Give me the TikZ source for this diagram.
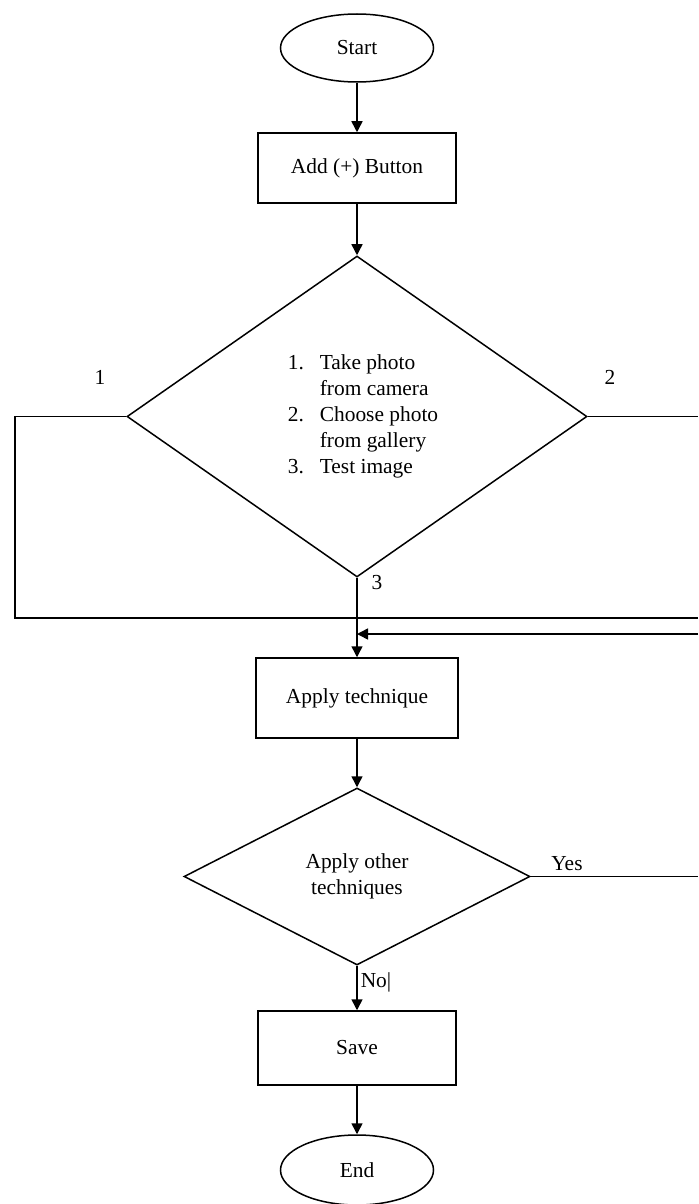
\documentclass[tikz,border=0pt]{standalone}
\usepackage{fontspec}
\setmainfont{Liberation Serif}
\usetikzlibrary{shapes.geometric,arrows.meta}
\tikzset{
	box/.style={draw, rectangle, minimum width=99pt, minimum height=36pt},
	oval/.style={draw, ellipse, minimum width=76.5pt, minimum height=34pt},
	choice/.style={draw, diamond, inner sep=0pt},
	flow/.style={-{Triangle[length=5.5pt,width=5.5pt]}},
}
\begin{document}
\begin{tikzpicture}[x=0.5pt,y=-0.5pt,line width=0.75pt,font=\fontsize{10.7}{13}\selectfont]
	\useasboundingbox (0,0) rectangle (698,1204);
	\node[oval] (start) at (357,48) {Start};
	\node[box, minimum height=35pt] (addbtn) at (357,168) {Add (+) Button};
	\node[choice, minimum width=230pt, minimum height=160.5pt] (pick) at (357,416.5)
		{\begin{tabular}{@{\hspace{6pt}}p{16pt}@{}l@{}}1. & Take photo\\ & from camera\\ 2. & Choose photo\\ & from gallery\\ 3. & Test image\end{tabular}};
	\node[box, minimum width=101pt, minimum height=40pt] (apply) at (357,698) {Apply technique};
	\node[choice, minimum width=173pt, minimum height=88.5pt, align=center] (more) at (357,876.5) {Apply other\\techniques};
	\node[box, minimum height=37pt] (save) at (357,1048) {Save};
	\node[oval, minimum height=35pt] (finish) at (357,1170) {End};
	% branch labels
	\node (lab1) at (100,377) {1};
	\node (lab2) at (610,377) {2};
	\node (lab3) at (377,583) {3};
	\node (labyes) at (567,864) {Yes};
	\node (labno) at (376,982) {No|};
	% loose ends at the right edge
	\coordinate (leftturn) at (15,618);
	\coordinate (rightout1) at (698,618);
	\coordinate (rightout2) at (698,416.5);
	\coordinate (backin) at (698,634);
	\coordinate (yesout) at (698,876.5);
	\draw[flow] (start) -- (addbtn);
	\draw[flow] (addbtn) -- (pick);
	\draw (pick.west) -| (leftturn) -- (rightout1);
	\draw (pick.east) -- (rightout2);
	\draw[flow] (backin) -- (pick.south |- backin);
	\draw[flow] (pick.south) -- (apply);
	\draw[flow] (apply) -- (more);
	\draw (more.east) -- (yesout);
	\draw[flow] (more.south) -- (save);
	\draw[flow] (save) -- (finish);
\end{tikzpicture}
\end{document}
